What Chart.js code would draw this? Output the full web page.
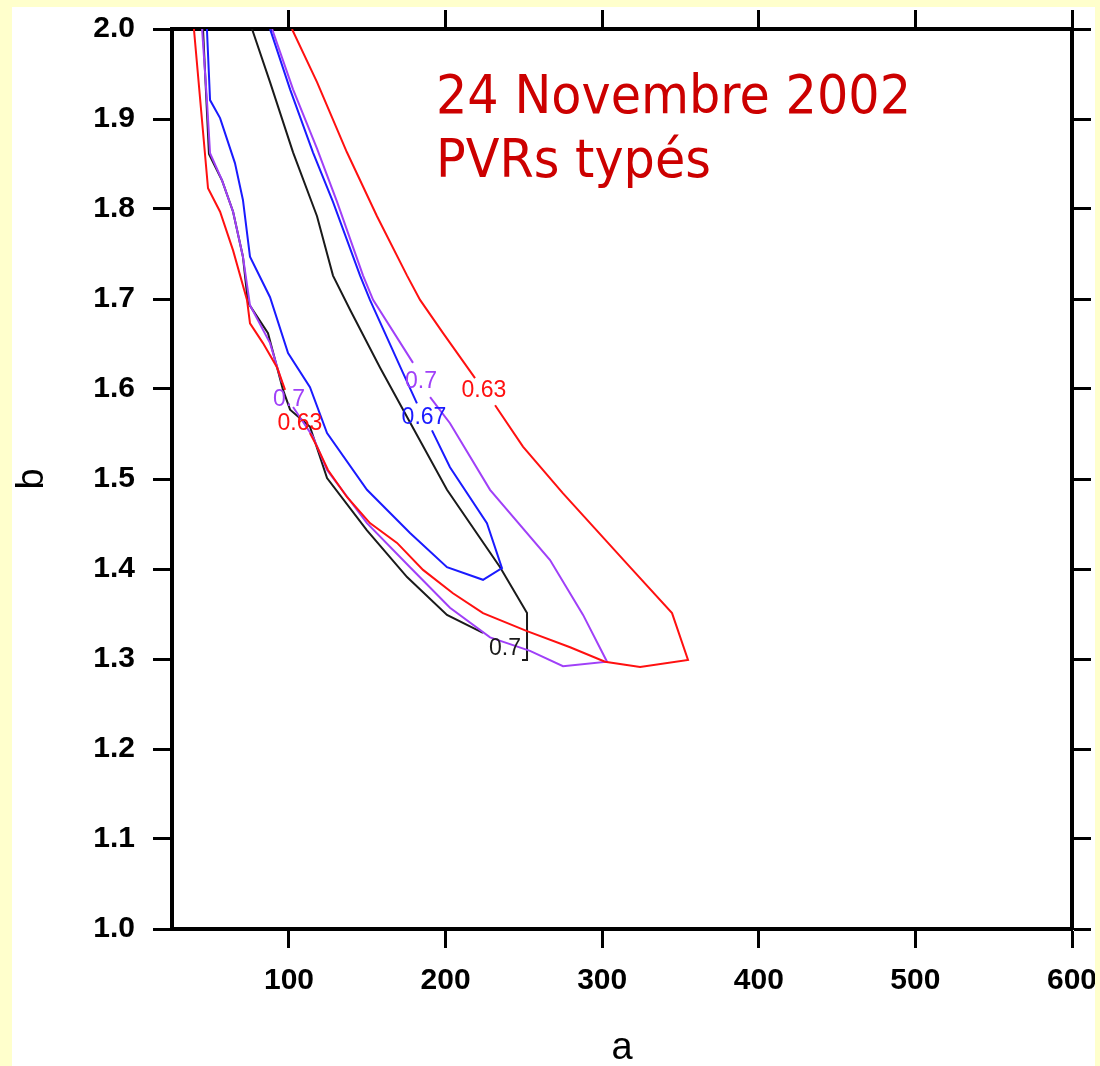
<!DOCTYPE html>
<html><head><meta charset="utf-8">
<script src="https://cdn.jsdelivr.net/npm/chart.js@4/dist/chart.umd.min.js"></script>
<style>html,body{margin:0;padding:0;background:#ffffcc;} canvas{display:block;}</style>
</head><body>
<canvas id="c" width="1100" height="1066"></canvas>
<script>
// ---- axis data ----
const xTickValues = [100, 200, 300, 400, 500, 600];
const yTickValues = [1.0, 1.1, 1.2, 1.3, 1.4, 1.5, 1.6, 1.7, 1.8, 1.9, 2.0];
const xRange = [25.3, 600];
const yRange = [1.0, 2.0];

// ---- contour series: [a, b] pairs, null = break at a contour label ----
const red063 = [
  [39.3,2.0],[48.3,1.823],[56.0,1.797],[64.3,1.754],[73.2,1.699],[75.1,1.673],[83.4,1.651],[92.4,1.624],[97.5,1.599], null,
  [113.4,1.551],[117.9,1.536],[124.9,1.510],[137.0,1.480],[151.7,1.451],[169.0,1.429],[185.6,1.399],[204.7,1.373],[223.9,1.351],
  [252.0,1.331],[279.5,1.313],[301.8,1.297],[324.2,1.291],[354.8,1.299],[344.6,1.351],[317.8,1.402],[275.0,1.484],[249.4,1.536],[231.6,1.582], null,
  [218.8,1.612],[198.4,1.662],[183.7,1.699],[175.4,1.726],[156.2,1.792],[137.0,1.863],[117.9,1.941],[101.9,2.0]
];
const black07 = [
  [45.1,2.0],[48.9,1.861],[57.2,1.832],[64.3,1.797],[70.6,1.747],[73.8,1.696],[86.6,1.662],[96.2,1.599],[100.7,1.577],[113.4,1.558],
  [124.3,1.501],[149.8,1.443],[175.4,1.391],[200.9,1.349],[223.9,1.329], null,
  [248.8,1.299],[252.0,1.299],[252.0,1.351],[234.8,1.402],[200.9,1.488],[175.4,1.569],[158.1,1.624],[139.0,1.688],[128.1,1.726],
  [117.9,1.792],[102.6,1.863],[87.9,1.941],[76.4,2.0]
];
const purple07 = [
  [44.5,2.0],[47.6,1.921],[49.6,1.862],[57.2,1.832],[64.3,1.797],[70.6,1.747],[75.1,1.693],[87.9,1.651],[95.5,1.607], null,
  [102.6,1.580],[115.3,1.547],[124.3,1.510],[149.8,1.451],[177.3,1.402],[202.8,1.357],[228.4,1.324],[253.9,1.309],[275.0,1.292],
  [303.1,1.297],[287.8,1.349],[266.7,1.410],[228.4,1.488],[202.8,1.562],[190.1,1.591], null,
  [179.2,1.629],[153.7,1.699],[147.3,1.726],[130.7,1.808],[117.9,1.867],[102.6,1.933],[89.2,2.0]
];
const blue067 = [
  [47.6,2.0],[49.6,1.921],[56.0,1.901],[65.5,1.851],[70.6,1.810],[75.1,1.747],[87.9,1.702],[99.4,1.640],[113.4,1.602],[124.3,1.551],
  [149.8,1.488],[177.3,1.440],[200.9,1.402],[223.9,1.388],[236.0,1.401],[226.4,1.451],[202.8,1.513],[191.3,1.554], null,
  [181.7,1.584],[172.8,1.618],[151.7,1.699],[145.4,1.726],[128.1,1.808],[115.3,1.863],[100.7,1.933],[87.9,2.0]
];

// ---- contour labels ----
const contourLabelText   = ['0.7', '0.63', '0.7', '0.67', '0.63', '0.7'];
const contourLabelA      = [100.0, 107.0, 184.3, 186.2, 224.5, 237.9];
const contourLabelB      = [1.588, 1.562, 1.608, 1.568, 1.598, 1.312];
const contourLabelSeries = ['purple', 'red', 'purple', 'blue', 'red', 'black'];

const titleLines = ['24 Novembre 2002', 'PVRs typés'];

const COLORS = { red: '#ff1010', black: '#1a1a1a', purple: '#a040f8', blue: '#1a1aff' };
const AXIS_FONT = "'Liberation Sans', Arial, Helvetica, sans-serif";

const toXY = arr => arr.map(p => p ? { x: p[0], y: p[1] } : { x: null, y: null });

const pagePlugin = {
  id: 'page',
  beforeDraw(chart) {
    const ctx = chart.ctx;
    ctx.save();
    ctx.fillStyle = '#ffffcc';
    ctx.fillRect(0, 0, chart.width, chart.height);
    ctx.fillStyle = '#ffffff';
    ctx.fillRect(12, 7, 1083, chart.height - 7);
    ctx.restore();
  },
  afterDraw(chart) {
    const ctx = chart.ctx;
    ctx.save();
    ctx.fillStyle = '#ffffcc';
    ctx.fillRect(1095, 0, chart.width - 1095, chart.height);
    ctx.restore();
  }
};

const labelPlugin = {
  id: 'contourLabels',
  afterDatasetsDraw(chart) {
    const ctx = chart.ctx;
    const xs = chart.scales.x, ys = chart.scales.y;
    ctx.save();
    ctx.font = "23px " + AXIS_FONT;
    ctx.textAlign = 'center';
    ctx.textBaseline = 'middle';
    contourLabelText.forEach((t, i) => {
      ctx.fillStyle = COLORS[contourLabelSeries[i]];
      ctx.fillText(t, xs.getPixelForValue(contourLabelA[i]), ys.getPixelForValue(contourLabelB[i]));
    });
    // title text
    ctx.fillStyle = '#cc0000';
    ctx.textAlign = 'left';
    ctx.textBaseline = 'alphabetic';
    ctx.font = "54px 'Comic Sans MS', 'DejaVu Sans', sans-serif";
    const w = ctx.measureText(titleLines[0]).width;
    const sx = Math.min(1, 475 / w);
    const baselines = [113, 177];
    titleLines.forEach((t, i) => {
      ctx.save();
      ctx.translate(436, baselines[i]);
      ctx.scale(sx, 1);
      ctx.fillText(t, 0, 0);
      ctx.restore();
    });
    ctx.restore();
  }
};

const setTicks = vals => scale => { scale.ticks = vals.map(v => ({ value: v })); };
const fixSize = (prop, val) => s => {
  s[prop] = val;
  s.paddingTop = 0; s.paddingBottom = 0; s.paddingLeft = 0; s.paddingRight = 0;
};
const gridOpts = { drawOnChartArea: false, tickLength: 19, tickWidth: 3, tickColor: '#000' };
const borderOpts = { color: '#000', width: 4 };

const mkDs = (data, color) => ({
  data: toXY(data), borderColor: color, backgroundColor: color, borderWidth: 2,
  showLine: true, pointRadius: 0, pointHoverRadius: 0, tension: 0, spanGaps: false, fill: false
});

new Chart(document.getElementById('c'), {
  type: 'scatter',
  data: {
    datasets: [
      mkDs(blue067, COLORS.blue),
      mkDs(red063, COLORS.red),
      mkDs(purple07, COLORS.purple),
      mkDs(black07, COLORS.black)
    ]
  },
  options: {
    responsive: false,
    animation: false,
    events: [],
    layout: { padding: 0 },
    plugins: { legend: { display: false }, tooltip: { enabled: false }, title: { display: false } },
    scales: {
      x: {
        type: 'linear', position: 'bottom', min: xRange[0], max: xRange[1],
        afterBuildTicks: setTicks(xTickValues),
        ticks: { color: '#000', padding: 15, maxRotation: 0, autoSkip: false,
                 font: { family: AXIS_FONT, size: 30, weight: 'bold' } },
        grid: gridOpts, border: borderOpts,
        title: { display: true, text: 'a', color: '#000', padding: 0,
                 font: { family: AXIS_FONT, size: 38, lineHeight: 0.9 } },
        afterFit: fixSize('height', 137)
      },
      x2: {
        type: 'linear', position: 'top', min: xRange[0], max: xRange[1],
        afterBuildTicks: setTicks(xTickValues),
        ticks: { display: false },
        grid: gridOpts, border: borderOpts,
        afterFit: fixSize('height', 29)
      },
      y: {
        type: 'linear', position: 'left', min: yRange[0], max: yRange[1],
        afterBuildTicks: setTicks(yTickValues),
        ticks: { color: '#000', padding: 18, autoSkip: false, callback: v => Number(v).toFixed(1),
                 font: { family: AXIS_FONT, size: 30, weight: 'bold' } },
        grid: gridOpts, border: borderOpts,
        title: { display: true, text: 'b', color: '#000', padding: { top: 15, bottom: 0 },
                 font: { family: AXIS_FONT, size: 38, lineHeight: 0.9 } },
        afterFit: fixSize('width', 172)
      },
      y2: {
        type: 'linear', position: 'right', min: yRange[0], max: yRange[1],
        afterBuildTicks: setTicks(yTickValues),
        ticks: { display: false },
        grid: gridOpts, border: borderOpts,
        afterFit: fixSize('width', 28)
      }
    }
  },
  plugins: [pagePlugin, labelPlugin]
});
</script>
</body></html>
